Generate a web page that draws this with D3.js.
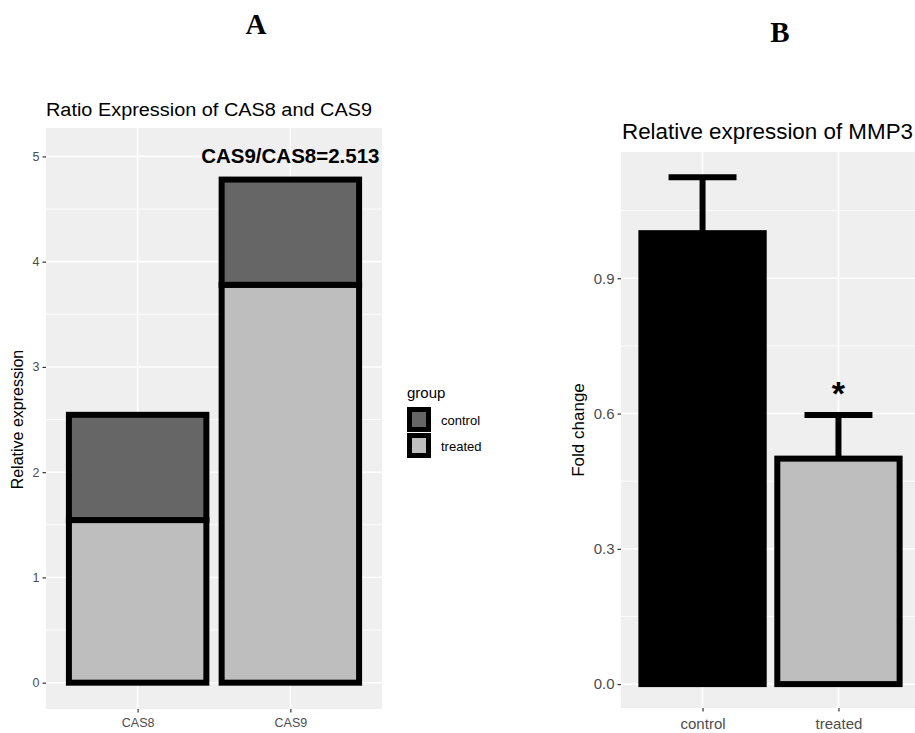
<!DOCTYPE html>
<html>
<head>
<meta charset="utf-8">
<script src="https://cdn.jsdelivr.net/npm/d3@7"></script>
<style>
  body { margin: 0; background: #fff; }
  svg { display: block; font-family: "Liberation Sans", Arial, sans-serif; }
  .tick text { fill: #4d4d4d; }
</style>
</head>
<body>
<svg id="chart" width="915" height="733"></svg>
<script>
// ---- data, panel A (stacked ratio) ----
var casGenes = ["CAS8", "CAS9"];
var groups = ["control", "treated"];
var treatedA = [1.545, 3.78];
var controlA = [1.0, 1.0];
var ratioLabel = "CAS9/CAS8=2.513";
var ticksA = [0, 1, 2, 3, 4, 5];

// ---- data, panel B (MMP3 fold change) ----
var mmpGroups = ["control", "treated"];
var foldMean = [1.0, 0.5];
var foldUpper = [1.124, 0.597];
var ticksB = [0.0, 0.3, 0.6, 0.9];

var fillColor = { control: "#666666", treated: "#bebebe" };
var panelBg = "#efefef";

var svg = d3.select("#chart");

// figure letters
svg.append("text").attr("x", 256).attr("y", 34).attr("text-anchor", "middle")
    .style("font-family", "'Liberation Serif', 'Times New Roman', serif")
    .style("font-weight", "bold").style("font-size", "29px").text("A");
svg.append("text").attr("x", 780).attr("y", 42).attr("text-anchor", "middle")
    .style("font-family", "'Liberation Serif', 'Times New Roman', serif")
    .style("font-weight", "bold").style("font-size", "29px").text("B");

// grey panel + white grid
function drawPanel(g, x, y, cats, majors, minors) {
  var x0 = x.range()[0], x1 = x.range()[1];
  var y0 = y.range()[0], y1 = y.range()[1];
  g.append("rect")
    .attr("x", x0).attr("y", y1)
    .attr("width", x1 - x0).attr("height", y0 - y1)
    .attr("fill", panelBg);
  g.selectAll(".minor").data(minors).enter().append("line")
    .attr("x1", x0).attr("x2", x1)
    .attr("y1", function(d) { return y(d); }).attr("y2", function(d) { return y(d); })
    .attr("stroke", "#fff").attr("stroke-width", 0.8);
  g.selectAll(".major").data(majors).enter().append("line")
    .attr("x1", x0).attr("x2", x1)
    .attr("y1", function(d) { return y(d); }).attr("y2", function(d) { return y(d); })
    .attr("stroke", "#fff").attr("stroke-width", 1.6);
  g.selectAll(".vmajor").data(cats).enter().append("line")
    .attr("x1", function(d, i) { return x(i + 1); }).attr("x2", function(d, i) { return x(i + 1); })
    .attr("y1", y0).attr("y2", y1)
    .attr("stroke", "#fff").attr("stroke-width", 1.6);
}

function drawAxes(g, x, y, cats, ticks, fmt, fs, padX) {
  var yAx = g.append("g")
      .attr("transform", "translate(" + x.range()[0] + ",0)")
      .call(d3.axisLeft(y).tickValues(ticks).tickSize(3.5).tickPadding(3).tickFormat(fmt));
  var xAx = g.append("g")
      .attr("transform", "translate(0," + y.range()[0] + ")")
      .call(d3.axisBottom(x).tickValues(cats.map(function(d, i) { return i + 1; }))
        .tickSize(3.5).tickPadding(padX).tickFormat(function(d) { return cats[d - 1]; }));
  [yAx, xAx].forEach(function(a) {
    a.select(".domain").remove();
    a.selectAll(".tick line").attr("stroke", "#333").attr("stroke-width", 1.2);
    a.selectAll(".tick text").style("font-size", fs + "px").style("font-family", "'Liberation Sans', Arial, sans-serif");
  });
}

// ================= panel A =================
var gA = svg.append("g");
var xA = d3.scaleLinear().domain([0.4, 2.6]).range([46, 382]);
var yA = d3.scaleLinear().domain([-0.25, 5.27]).range([709, 128]);
drawPanel(gA, xA, yA, casGenes, ticksA, [0.5, 1.5, 2.5, 3.5, 4.5]);

var stackRows = casGenes.map(function(c, i) {
  return { gene: c, treated: treatedA[i], control: controlA[i] };
});
var stacked = d3.stack().keys(["treated", "control"])(stackRows);
var bwA = (xA(1.45) - xA(1));
gA.selectAll(".layer").data(stacked).enter().append("g")
    .attr("fill", function(d) { return fillColor[d.key]; })
  .selectAll("rect").data(function(d) { return d; }).enter().append("rect")
    .attr("x", function(d, i) { return xA(i + 1) - bwA; })
    .attr("width", 2 * bwA)
    .attr("y", function(d) { return yA(d[1]); })
    .attr("height", function(d) { return yA(d[0]) - yA(d[1]); })
    .attr("stroke", "#000").attr("stroke-width", 6);

gA.append("text")
    .attr("x", xA(2)).attr("y", 163).attr("text-anchor", "middle")
    .style("font-size", "20.5px").style("font-weight", "bold")
    .text(ratioLabel);

drawAxes(gA, xA, yA, casGenes, ticksA, d3.format("d"), 12.5, 6);

gA.append("text").attr("x", 46).attr("y", 116)
    .style("font-size", "18px")
    .attr("textLength", 326).attr("lengthAdjust", "spacingAndGlyphs")
    .text("Ratio Expression of CAS8 and CAS9");
gA.append("text")
    .attr("transform", "translate(23," + (yA(2.5)) + ") rotate(-90)")
    .attr("text-anchor", "middle").style("font-size", "16px")
    .text("Relative expression");

// legend
var leg = svg.append("g").attr("transform", "translate(407,0)");
leg.append("text").attr("x", 0).attr("y", 398).style("font-size", "15px").text("group");
leg.selectAll(".key").data(groups).enter().append("rect")
    .attr("x", 2.5).attr("y", function(d, i) { return 409.5 + i * 26; })
    .attr("width", 19).attr("height", 20)
    .attr("fill", function(d) { return fillColor[d]; })
    .attr("stroke", "#000").attr("stroke-width", 5);
leg.selectAll(".lab").data(groups).enter().append("text")
    .attr("x", 34).attr("y", function(d, i) { return 424.5 + i * 26; })
    .style("font-size", "13px").text(function(d) { return d; });

// ================= panel B =================
var gB = svg.append("g");
var xB = d3.scaleLinear().domain([0.4, 2.6]).range([621, 920]);
var yB = d3.scaleLinear().domain([-0.053, 1.18]).range([708, 152]);
drawPanel(gB, xB, yB, mmpGroups, ticksB, [0.15, 0.45, 0.75, 1.05]);

var bwB = xB(1.45) - xB(1);
var whB = xB(1.25) - xB(1);
// error bars: only the part above each bar shows
gB.selectAll(".err").data(mmpGroups).enter().append("line")
    .attr("x1", function(d, i) { return xB(i + 1); }).attr("x2", function(d, i) { return xB(i + 1); })
    .attr("y1", function(d, i) { return yB(foldMean[i]); })
    .attr("y2", function(d, i) { return yB(foldUpper[i]); })
    .attr("stroke", "#000").attr("stroke-width", 6);
gB.selectAll(".whisk").data(mmpGroups).enter().append("line")
    .attr("x1", function(d, i) { return xB(i + 1) - whB; })
    .attr("x2", function(d, i) { return xB(i + 1) + whB; })
    .attr("y1", function(d, i) { return yB(foldUpper[i]); })
    .attr("y2", function(d, i) { return yB(foldUpper[i]); })
    .attr("stroke", "#000").attr("stroke-width", 6);

gB.selectAll(".bar").data(mmpGroups).enter().append("rect")
    .attr("x", function(d, i) { return xB(i + 1) - bwB; })
    .attr("width", 2 * bwB)
    .attr("y", function(d, i) { return yB(foldMean[i]); })
    .attr("height", function(d, i) { return yB(0) - yB(foldMean[i]); })
    .attr("fill", function(d) { return d === "control" ? "#000" : fillColor.treated; })
    .attr("stroke", "#000").attr("stroke-width", 6);

gB.append("text")
    .attr("x", xB(2)).attr("y", yB(foldUpper[1]) - 10).attr("text-anchor", "middle")
    .style("font-size", "34px").style("font-weight", "bold").text("*");

drawAxes(gB, xB, yB, mmpGroups, ticksB, d3.format(".1f"), 15, 7);

gB.append("text").attr("x", 622).attr("y", 139)
    .style("font-size", "22px")
    .attr("textLength", 291).attr("lengthAdjust", "spacingAndGlyphs")
    .text("Relative expression of MMP3");
gB.append("text")
    .attr("transform", "translate(584," + ((yB.range()[0] + yB.range()[1]) / 2) + ") rotate(-90)")
    .attr("text-anchor", "middle").style("font-size", "17px")
    .text("Fold change");
</script>
</body>
</html>
